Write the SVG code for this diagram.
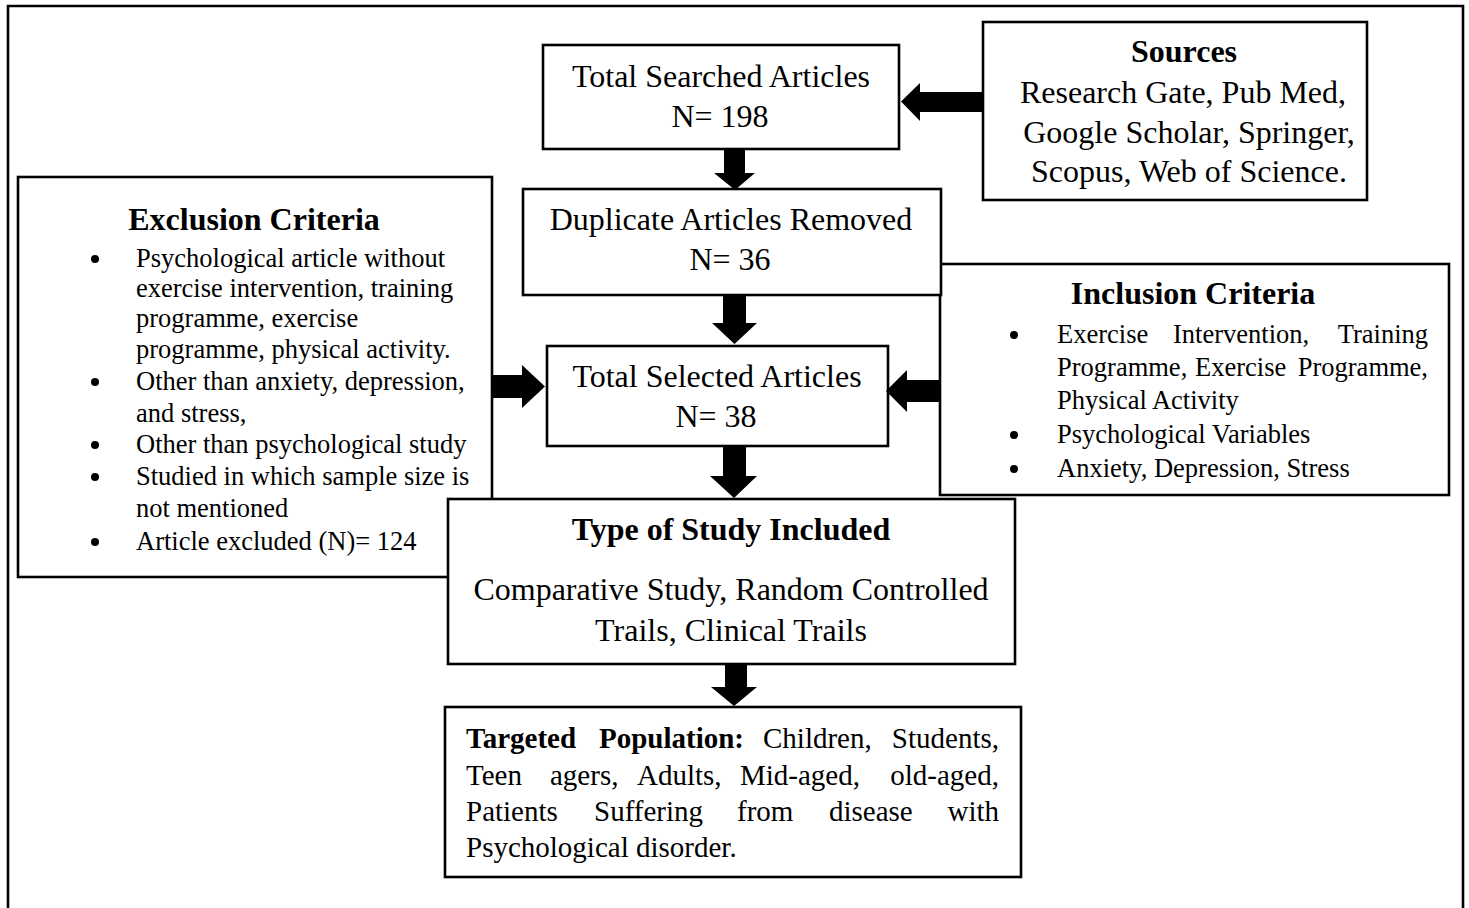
<svg xmlns="http://www.w3.org/2000/svg" width="1469" height="908" viewBox="0 0 1469 908">
<style>
.box{fill:#fff;stroke:#000;stroke-width:2.6}
.frame{fill:none;stroke:#000;stroke-width:2.6}
.arr{fill:#000;stroke:none}
text{font-family:"Liberation Serif","Times New Roman",serif;fill:#000}
.t32{font-size:32px}
.b32{font-size:32px;font-weight:bold}
.t26{font-size:26.5px}
.t29{font-size:29px}
.c{text-anchor:middle}
.e{text-anchor:end}
.bul{fill:#000}
</style>
<rect width="1469" height="908" fill="#fff"/>
<path class="frame" d="M8,912 V6 H1463 V912"/>

<g id="exclusion">
<rect class="box" x="18" y="177" width="474" height="400"/>
<text class="b32 c" x="254" y="230">Exclusion Criteria</text>
<g class="t26">
<circle class="bul" cx="95" cy="259" r="4"/>
<text x="136" y="267">Psychological article without</text>
<text x="136" y="297">exercise intervention, training</text>
<text x="136" y="327">programme, exercise</text>
<text x="136" y="358">programme, physical activity.</text>
<circle class="bul" cx="95" cy="382" r="4"/>
<text x="136" y="390">Other than anxiety, depression,</text>
<text x="136" y="422">and stress,</text>
<circle class="bul" cx="95" cy="445" r="4"/>
<text x="136" y="453">Other than psychological study</text>
<circle class="bul" cx="95" cy="477" r="4"/>
<text x="136" y="485">Studied in which sample size is</text>
<text x="136" y="517">not mentioned</text>
<circle class="bul" cx="95" cy="542" r="4"/>
<text x="136" y="550">Article excluded (N)= 124</text>
</g>
</g>

<g id="inclusion">
<rect class="box" x="940" y="264" width="509" height="231"/>
<text class="b32 c" x="1193" y="304">Inclusion Criteria</text>
<g class="t26">
<circle class="bul" cx="1014" cy="335" r="4"/>
<text x="1057" y="343">Exercise</text>
<text x="1173" y="343">Intervention,</text>
<text class="e" x="1428" y="343">Training</text>
<text x="1057" y="376">Programme,</text>
<text x="1195" y="376">Exercise</text>
<text class="e" x="1428" y="376">Programme,</text>
<text x="1057" y="409">Physical Activity</text>
<circle class="bul" cx="1014" cy="435" r="4"/>
<text x="1057" y="443">Psychological Variables</text>
<circle class="bul" cx="1014" cy="469" r="4"/>
<text x="1057" y="477">Anxiety, Depression, Stress</text>
</g>
</g>

<g id="sources">
<rect class="box" x="983" y="22" width="384" height="178"/>
<text class="b32 c" x="1184" y="62">Sources</text>
<text class="t32 c" x="1183" y="103">Research Gate, Pub Med,</text>
<text class="t32 c" x="1189" y="143">Google Scholar, Springer,</text>
<text class="t32 c" x="1189" y="182">Scopus, Web of Science.</text>
</g>

<g id="searched">
<rect class="box" x="543" y="45" width="356" height="104"/>
<text class="t32 c" x="721" y="87">Total Searched Articles</text>
<text class="t32 c" x="720" y="127">N= 198</text>
</g>

<g id="duplicate">
<rect class="box" x="523" y="189" width="418" height="106"/>
<text class="t32 c" x="731" y="230">Duplicate Articles Removed</text>
<text class="t32 c" x="730" y="270">N= 36</text>
</g>

<g id="selected">
<rect class="box" x="547" y="346" width="341" height="100"/>
<text class="t32 c" x="717" y="387">Total Selected Articles</text>
<text class="t32 c" x="716" y="427">N= 38</text>
</g>

<g id="type">
<rect class="box" x="448" y="499" width="567" height="165"/>
<text class="b32 c" x="731" y="540">Type of Study Included</text>
<text class="t32 c" x="731" y="600">Comparative Study, Random Controlled</text>
<text class="t32 c" x="731" y="641">Trails, Clinical Trails</text>
</g>

<g id="targeted">
<rect class="box" x="445" y="707" width="576" height="170"/>
<g class="t29">
<text x="466" y="748" font-weight="bold">Targeted</text>
<text x="599" y="748" font-weight="bold">Population:</text>
<text x="763" y="748">Children,</text>
<text class="e" x="999" y="748">Students,</text>
<text x="466" y="785">Teen</text>
<text x="550" y="785">agers,</text>
<text x="637" y="785">Adults,</text>
<text x="740" y="785">Mid-aged,</text>
<text class="e" x="999" y="785">old-aged,</text>
<text x="466" y="821">Patients</text>
<text x="594" y="821">Suffering</text>
<text x="737" y="821">from</text>
<text x="829" y="821">disease</text>
<text class="e" x="999" y="821">with</text>
<text x="466" y="857">Psychological disorder.</text>
</g>
</g>

<g id="connectors">
<polygon class="arr" points="983,92 920,92 920,83 901,101.5 920,121 920,112 983,112"/>
<polygon class="arr" points="724,149 745,149 745,173 755,173 735,190 714,173 724,173"/>
<polygon class="arr" points="723,295 746,295 746,323 757,323 734.5,344 712,323 723,323"/>
<polygon class="arr" points="492,375 522,375 522,365 545,386.5 522,408 522,398 492,398"/>
<polygon class="arr" points="940,380 907,380 907,370 886,391 907,412 907,402 940,402"/>
<polygon class="arr" points="723,446 746,446 746,476 757,476 734,498 710,476 723,476"/>
<polygon class="arr" points="725,664 747,664 747,687 757,687 734,706 711,687 725,687"/>
</g>
</svg>
